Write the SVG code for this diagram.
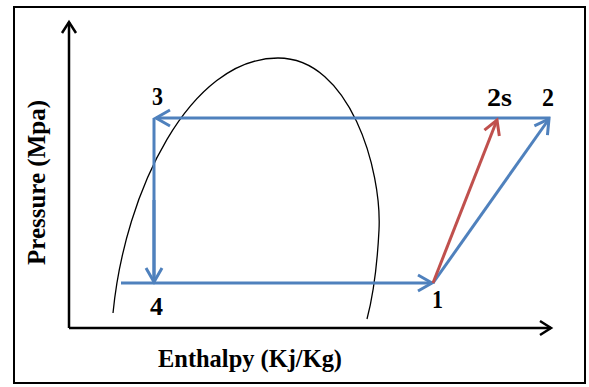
<svg xmlns="http://www.w3.org/2000/svg" width="589" height="387" viewBox="0 0 589 387">
<style>
.lbl{font-family:"Liberation Serif","Times New Roman",serif;font-weight:bold;font-size:26px;fill:#000}
.blue{stroke:#4F81BD;stroke-width:3;fill:none}
.red{stroke:#C0504D;stroke-width:3;fill:none}
.axis{stroke:#000;stroke-width:2.5;fill:none}
</style>
<defs>
<marker id="ab" markerUnits="userSpaceOnUse" markerWidth="30" markerHeight="30" viewBox="-20 -15 30 30" refX="0" refY="0" orient="auto">
<path d="M-14,-8 L0,0 L-14,8" fill="none" stroke="#4F81BD" stroke-width="3"/>
</marker>
<marker id="ar" markerUnits="userSpaceOnUse" markerWidth="30" markerHeight="30" viewBox="-20 -15 30 30" refX="0" refY="0" orient="auto">
<path d="M-14,-8 L0,0 L-14,8" fill="none" stroke="#C0504D" stroke-width="3"/>
</marker>
<marker id="ak" markerUnits="userSpaceOnUse" markerWidth="30" markerHeight="30" viewBox="-20 -15 30 30" refX="0" refY="0" orient="auto">
<path d="M-11,-7 L0,0 L-11,7" fill="none" stroke="#000" stroke-width="2.5"/>
</marker>
</defs>
<rect x="14" y="7" width="571" height="376" fill="#fff" stroke="#000" stroke-width="2"/>
<g id="axes">
<path class="axis" d="M69,328 L69,22" marker-end="url(#ak)"/>
<path class="axis" d="M69,328 L551,328" marker-end="url(#ak)"/>
</g>
<g id="dome">
<path d="M113,313 C125,190 190,58 278,58 C350,58 382,170 379,230 C377,270 372,300 367,319" fill="none" stroke="#000" stroke-width="1.3"/>
</g>
<g id="connectors">
<path class="blue" d="M550,118 L156,118" marker-end="url(#ab)"/>
<path class="blue" d="M154,118 L154,281"/>
<path class="blue" d="M154,200 L154,282" marker-end="url(#ab)"/>
<path class="blue" d="M121,283 L432,283" marker-end="url(#ab)"/>
<path class="blue" d="M433,283 L549,119" marker-end="url(#ab)"/>
<path class="red" d="M433,283 L497,120" marker-end="url(#ar)"/>
</g>
<g id="p3"><text class="lbl" x="152" y="105" textLength="11" lengthAdjust="spacingAndGlyphs">3</text></g>
<g id="p2s"><text class="lbl" x="487" y="106" textLength="25" lengthAdjust="spacingAndGlyphs">2s</text></g>
<g id="p2"><text class="lbl" x="542" y="106" textLength="12" lengthAdjust="spacingAndGlyphs">2</text></g>
<g id="p1"><text class="lbl" x="432" y="308" textLength="11" lengthAdjust="spacingAndGlyphs">1</text></g>
<g id="p4"><text class="lbl" x="150" y="315" textLength="13" lengthAdjust="spacingAndGlyphs">4</text></g>
<g id="xlabel"><text class="lbl" x="158" y="367" textLength="184" lengthAdjust="spacingAndGlyphs">Enthalpy (Kj/Kg)</text></g>
<g id="ylabel"><text class="lbl" transform="translate(45,265) rotate(-90)" x="0" y="0" textLength="165" lengthAdjust="spacingAndGlyphs">Pressure (Mpa)</text></g>
</svg>
